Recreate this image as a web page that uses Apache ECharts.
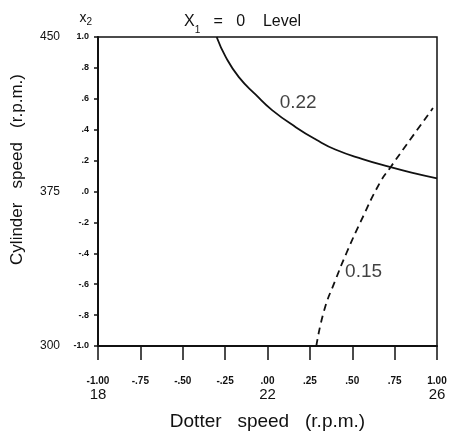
<!DOCTYPE html>
<html><head><meta charset="utf-8">
<script src="https://cdn.jsdelivr.net/npm/echarts@6/dist/echarts.min.js"></script>
<style>html,body{margin:0;padding:0;background:#fff}#c{width:454px;height:438px}</style>
</head><body><div id="c"></div>
<script>
// coded levels on both axes
const xTickLabels = ['-1.00','-.75','-.50','-.25','.00','.25','.50','.75','1.00'];
const yTickLabels = ['-1.0','-.8','-.6','-.4','-.2','.0','.2','.4','.6','.8','1.0'];
// natural units
const dofferRpm = [18, 22, 26];
const cylinderRpm = [300, 375, 450];
// contour 0.22 (solid)
const contour022X = [-0.30,-0.246,-0.169,-0.068,0.027,0.169,0.288,0.40,0.561,0.721,0.85,1.0];
const contour022Y = [1.0,0.87,0.74,0.625,0.527,0.415,0.335,0.272,0.210,0.159,0.122,0.085];
// contour 0.15 (dashed)
const contour015X = [0.288,0.335,0.401,0.466,0.549,0.662,0.727,0.840,0.976];
const contour015Y = [-1.0,-0.767,-0.573,-0.398,-0.197,0.055,0.159,0.333,0.540];
const contourNames = ['0.22','0.15'];
const contourLabelX = [0.181, 0.567];
const contourLabelY = [0.573, -0.521];

const pair = (xs, ys) => xs.map((x, i) => [x, ys[i]]);
const F = 'Liberation Sans, DejaVu Sans, sans-serif';

const chart = echarts.init(document.getElementById('c'));
chart.setOption({
  animation: false,
  backgroundColor: '#fff',
  title: {
    text: '{a|X}{s|1}{a|   =   0    Level}',
    left: 179, top: 4,
    textStyle: {
      fontWeight: 'normal',
      rich: {
        a: {fontFamily: F, fontSize: 16, fontWeight: 'normal', color: '#111'},
        s: {fontFamily: F, fontSize: 10, fontWeight: 'normal', color: '#111', verticalAlign: 'bottom', padding: [16,0,0,0]}
      }
    }
  },
  grid: {left: 98, right: 17, top: 37, bottom: 92, show: true, borderColor: '#111', borderWidth: 1.5, backgroundColor: 'transparent'},
  xAxis: [{
    type: 'value', min: -1, max: 1, interval: 0.25,
    axisLine: {show: true, onZero: false, lineStyle: {color: '#111', width: 1.8}},
    axisTick: {show: true, length: 14, lineStyle: {color: '#111', width: 1.5}},
    splitLine: {show: false},
    axisLabel: {margin: 30, fontFamily: F, fontSize: 10, fontWeight: 'bold', color: '#111',
      formatter: v => xTickLabels[Math.round((v + 1) / 0.25)]},
    name: 'Dotter   speed   (r.p.m.)', nameLocation: 'middle', nameGap: 66,
    nameTextStyle: {fontFamily: F, fontSize: 19, color: '#111'}
  }, {
    type: 'value', min: dofferRpm[0], max: dofferRpm[2], interval: dofferRpm[1] - dofferRpm[0],
    position: 'bottom',
    axisLine: {show: false}, axisTick: {show: false}, splitLine: {show: false},
    axisLabel: {margin: 41, fontFamily: F, fontSize: 15, color: '#111'}
  }],
  yAxis: [{
    type: 'value', min: -1, max: 1, interval: 0.2,
    axisLine: {show: true, onZero: false, lineStyle: {color: '#111', width: 2}},
    axisTick: {show: true, length: 4, lineStyle: {color: '#111', width: 1.5}},
    splitLine: {show: false},
    axisLabel: {margin: 9, fontFamily: F, fontSize: 9, fontWeight: 'bold', color: '#111',
      formatter: v => yTickLabels[Math.round((v + 1) / 0.2)]},
    name: '{a|x}{s|2}', nameLocation: 'end', nameGap: 10,
    nameTextStyle: {align: 'right', padding: [0, 6, 0, 0],
      rich: {a: {fontFamily: F, fontSize: 14, color: '#111'}, s: {fontFamily: F, fontSize: 10, color: '#111', verticalAlign: 'bottom', padding: [8,0,0,0]}}}
  }, {
    type: 'value', min: cylinderRpm[0], max: cylinderRpm[2], interval: cylinderRpm[1] - cylinderRpm[0],
    position: 'left',
    axisLine: {show: false}, axisTick: {show: false}, splitLine: {show: false},
    axisLabel: {margin: 38, fontFamily: F, fontSize: 12, color: '#111'},
    name: 'Cylinder   speed   (r.p.m.)', nameLocation: 'middle', nameGap: 72, nameRotate: 90,
    nameTextStyle: {fontFamily: F, fontSize: 17, color: '#111', padding: [0, 0, 0, 44]}
  }],
  series: [{
    type: 'line', name: contourNames[0], data: pair(contour022X, contour022Y),
    smooth: 0.5, showSymbol: false, lineStyle: {color: '#111', width: 1.8}
  }, {
    type: 'line', name: contourNames[1], data: pair(contour015X, contour015Y),
    smooth: 0.5, showSymbol: false, lineStyle: {color: '#111', width: 1.8, type: [7, 5]}
  }, {
    type: 'scatter', symbolSize: 0,
    data: contourNames.map((n, i) => ({name: n, value: [contourLabelX[i], contourLabelY[i]]})),
    label: {show: true, position: 'inside', formatter: p => p.name, fontFamily: F, fontSize: 19, color: '#111'}
  }]
});
</script></body></html>
